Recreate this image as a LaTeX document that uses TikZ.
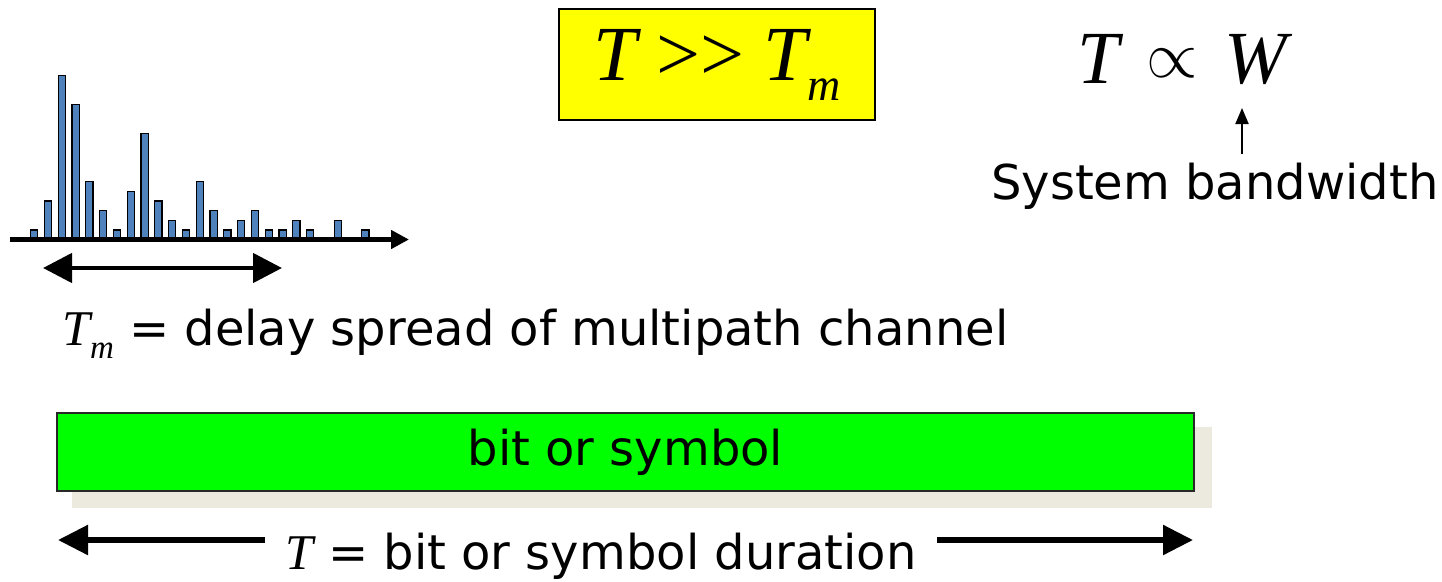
\RequirePackage{fix-cm}
\documentclass[tikz,border=0pt]{standalone}
\usepackage{fontspec}
\setmainfont{DejaVu Sans}
\newfontfamily\tnr{Liberation Serif}
\usetikzlibrary{arrows.meta}
\definecolor{barblue}{RGB}{79,129,189}
\definecolor{ybox}{RGB}{255,255,0}
\definecolor{gbox}{RGB}{0,255,0}
\definecolor{shadowbeige}{RGB}{236,233,222}
\definecolor{gborder}{RGB}{40,40,40}
\tikzset{
  txt/.style={inner sep=0pt, font=\fontsize{48}{56}\selectfont},
  bar/.style={fill=barblue, draw=black, line width=1.3pt},
  axisarrow/.style={line width=5pt, -{Triangle[length=18pt,width=18pt]}},
  spanarrow/.style={line width=4.5pt, {Triangle[length=29pt,width=29pt]}-{Triangle[length=29pt,width=29pt]}},
  bigarrow/.style={line width=5.5pt, -{Triangle[length=30pt,width=29pt]}},
  thinarrow/.style={line width=2pt, -{Triangle[length=16pt,width=13pt]}},
  yellowbox/.style={draw=black, line width=1.5pt, fill=ybox, minimum width=316pt, minimum height=111pt, inner sep=0pt},
  greenbox/.style={draw=gborder, line width=1.5pt, fill=gbox, minimum width=1137pt, minimum height=78pt, inner sep=0pt, font=\fontsize{48}{56}\selectfont}
}
\begin{document}
\begin{tikzpicture}[x=1pt,y=-1pt]
\useasboundingbox (0,0) rectangle (1442,581);

% multipath bars
\foreach \k/\u in {1/1,2/4,3/17,4/14,5/6,6/3,7/1,8/5,9/11,10/4,11/2,12/1,13/6,14/3,15/1,16/2,17/3,18/1,19/1,20/2,21/1,23/2,25/1}{
  \draw[bar] ({34.2+13.8*(\k-1)-3.6},239) rectangle ({34.2+13.8*(\k-1)+3.6},{239.7-9.67*\u});
}
\coordinate (ax0) at (10,239.5);
\coordinate (ax1) at (409,239.5);
\draw[axisarrow] (ax0) -- (ax1);
\coordinate (sp0) at (43,268);
\coordinate (sp1) at (282,268);
\draw[spanarrow] (sp0) -- (sp1);

% T_m caption
\node[txt, anchor=base west] (tmcap) at (62,345)
  {{\tnr\itshape\fontsize{50}{50}\selectfont T\raisebox{-13pt}{\fontsize{33}{33}\selectfont m}} = delay spread of multipath channel};

% yellow inequality box
\node[yellowbox] (ineq) at (717,64.5)
  {\tnr\fontsize{78}{78}\selectfont\itshape T \upshape>> \itshape T\raisebox{-20pt}{\fontsize{46}{46}\selectfont m}};

% T proportional W
\node[inner sep=0pt, anchor=base west] (tt) at (1077,83) {\tnr\itshape\fontsize{75}{75}\selectfont T};
\node[inner sep=0pt, anchor=base west] (prop) at (1146,77) {\fontsize{66}{66}\selectfont$\propto$};
\node[inner sep=0pt, anchor=base west] (ww) at (1224,83) {\tnr\itshape\fontsize{75}{75}\selectfont W};
\node[txt, anchor=base west] (sb) at (991,199) {System bandwidth};
\coordinate (wtip) at (1242,108);
\draw[thinarrow, shorten <=8pt] (sb.north -| wtip) -- (wtip);

% bit or symbol
\fill[shadowbeige] (72,427) rectangle (1212,508);
\node[greenbox] (bit) at (625.5,452) {bit or symbol};

% duration
\node[txt, inner xsep=20pt, anchor=base west] (dur) at (265,569)
  {{\tnr\itshape\fontsize{50}{50}\selectfont T} = bit or symbol duration};
\coordinate (lt) at (58,540);
\coordinate (rt) at (1193,540);
\draw[bigarrow] (dur.west |- lt) -- (lt);
\draw[bigarrow] (dur.east |- rt) -- (rt);
\end{tikzpicture}
\end{document}
